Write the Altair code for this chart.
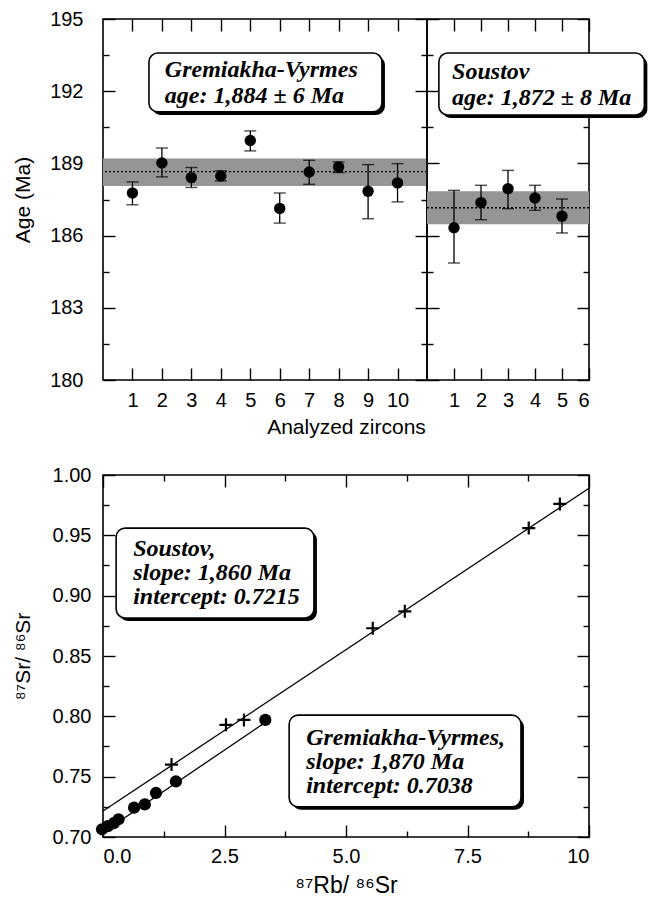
import altair as alt
import pandas as pd

# ---------------- data ----------------
# Top panel, Gremiakha-Vyrmes zircons
g_idx = [1, 2, 3, 4, 5, 6, 7, 8, 9, 10]
g_age = [187.77, 189.02, 188.41, 188.48, 189.95, 187.13, 188.64, 188.85, 187.84, 188.19]
g_lo = [187.28, 188.44, 188.00, 188.27, 189.52, 186.52, 188.13, 188.62, 186.70, 187.40]
g_hi = [188.23, 189.64, 188.83, 188.69, 190.35, 187.77, 189.13, 189.06, 188.95, 188.99]
g_band = [188.06, 189.20]
g_mean = [188.66]

# Top panel, Soustov zircons
s_idx = [1, 2, 3, 4, 5]
s_age = [186.33, 187.37, 187.95, 187.56, 186.81]
s_lo = [184.86, 186.66, 187.12, 187.05, 186.11]
s_hi = [187.88, 188.09, 188.71, 188.09, 187.52]
s_band = [186.47, 187.84]
s_mean = [187.16]

# Bottom panel, Rb-Sr isochrons
rb_g = [-0.02, 0.10, 0.22, 0.32, 0.64, 0.86, 1.09, 1.50, 3.34]
sr_g = [0.7064, 0.7090, 0.7114, 0.7147, 0.7243, 0.7270, 0.7365, 0.7460, 0.7970]
rb_s = [1.41, 2.53, 2.90, 5.55, 6.21, 8.76, 9.40]
sr_s = [0.760, 0.793, 0.797, 0.873, 0.887, 0.956, 0.976]
line_g_x = [0.0, 3.34]
line_g_y = [0.7038, 0.7950]
line_s_x = [0.0, 10.0]
line_s_y = [0.7215, 0.9890]

g_label = ["Gremiakha-Vyrmes", "age: 1,884 \u00b1 6 Ma"]
s_label = ["Soustov", "age: 1,872 \u00b1 8 Ma"]
s_iso_label = ["Soustov,", "slope: 1,860 Ma", "intercept: 0.7215"]
g_iso_label = ["Gremiakha-Vyrmes,", "slope: 1,870 Ma", "intercept: 0.7038"]

# ---------------- layout constants ----------------
W1, W2, H = 324, 162, 361
WB, HB = 486, 362
SANS = "Liberation Sans"
SERIF = "Liberation Serif"
TITLE_X = -70
BOX_FS = 24

age_major = [180, 183, 186, 189, 192, 195]
age_all = [180 + 1.5 * i for i in range(11)]
age_test = "abs(datum.value / 3 - round(datum.value / 3)) < 0.01"


def inward(orient, offset, values, size):
    return alt.Axis(orient=orient, offset=offset, values=values, labels=False,
                    ticks=True, domain=False, grid=False, title=None,
                    tickSize=size, tickColor="black", tickWidth=1.4)


def boxed_text(xs, ys, x1, x2, y1, y2, tx, ty, lines, lh, fs):
    shadow = alt.Chart().mark_rect(color="black", cornerRadius=9,
                                   xOffset=3, x2Offset=3, yOffset=3, y2Offset=3).encode(
        x=alt.X(datum=x1, scale=xs, axis=None), x2=alt.X2(datum=x2),
        y=alt.Y(datum=y1, scale=ys, axis=None), y2=alt.Y2(datum=y2))
    box = alt.Chart().mark_rect(fill="white", stroke="black", strokeWidth=1.6,
                                cornerRadius=9).encode(
        x=alt.X(datum=x1, scale=xs, axis=None), x2=alt.X2(datum=x2),
        y=alt.Y(datum=y1, scale=ys, axis=None), y2=alt.Y2(datum=y2))
    txt = alt.Chart().mark_text(text=lines, align="left", baseline="top", font=SERIF,
                                fontStyle="italic", fontWeight="bold", fontSize=fs,
                                lineHeight=lh, color="black").encode(
        x=alt.X(datum=tx, scale=xs, axis=None), y=alt.Y(datum=ty, scale=ys, axis=None))
    return [shadow, box, txt]


def top_panel(idx, age, lo, hi, band, mean, xmax, width, xticks, left_labels, box):
    df = pd.DataFrame({"n": idx, "age": age, "lo": lo, "hi": hi})
    bdf = pd.DataFrame({"b0": [band[0]], "b1": [band[1]], "m": mean})
    xs = alt.Scale(domain=[0, xmax], nice=False, zero=False)
    ys = alt.Scale(domain=[180, 195], nice=False, zero=False)
    ysize = {"condition": {"test": age_test, "value": 12}, "value": 6}

    band_l = alt.Chart(bdf).mark_rect(color="#959595").encode(
        y=alt.Y("b0:Q", scale=ys, axis=None), y2="b1:Q")
    mean_l = alt.Chart(bdf).mark_rule(color="black", strokeDash=[2, 2], strokeWidth=1.4).encode(
        y=alt.Y("m:Q", scale=ys, axis=None))
    err_l = alt.Chart(df).mark_rule(color="black", strokeWidth=1.3).encode(
        x=alt.X("n:Q", scale=xs, axis=inward("top", -H, xticks, 12)),
        y=alt.Y("lo:Q", scale=ys, axis=inward("right", -width, age_all, ysize)),
        y2="hi:Q")
    cap_l = alt.Chart(df).transform_fold(["lo", "hi"], as_=["k", "v"]).mark_tick(
        orient="horizontal", size=12, thickness=1.4, color="black").encode(
        x=alt.X("n:Q", scale=xs, axis=inward("bottom", -H, xticks, 12)),
        y=alt.Y("v:Q", scale=ys, axis=inward("left", -width, age_all, ysize)))
    if left_labels:
        yax = alt.Axis(orient="left", values=age_major, ticks=False, domain=False, grid=False,
                       labelPadding=20, title="Age (Ma)", titleX=TITLE_X)
        xax = alt.Axis(orient="bottom", values=xticks, ticks=False, domain=False, grid=False,
                       labelPadding=10, title="Analyzed zircons", titleX=243, titlePadding=6)
    else:
        yax = None
        xax = alt.Axis(orient="bottom", values=xticks, ticks=False, domain=False, grid=False,
                       labelPadding=10, title=None)
    pt_l = alt.Chart(df).mark_circle(size=130, color="black", opacity=1).encode(
        x=alt.X("n:Q", scale=xs, axis=xax),
        y=alt.Y("age:Q", scale=ys, axis=yax))
    layers = [band_l, mean_l, err_l, cap_l, pt_l] + boxed_text(xs, ys, *box)
    return alt.layer(*layers).resolve_axis(x="independent", y="independent").properties(
        width=width, height=H)


left = top_panel(g_idx, g_age, g_lo, g_hi, g_band, g_mean, 11, W1, list(range(1, 11)), True,
                 (1.56, 9.47, 193.59, 191.14, 2.10, 193.40, g_label, 26, BOX_FS))
right = top_panel(s_idx, s_age, s_lo, s_hi, s_band, s_mean, 6, W2, list(range(1, 7)), False,
                  (0.44, 8.05, 193.59, 191.01, 0.93, 193.30, s_label, 26, BOX_FS))
top = alt.hconcat(left, right, spacing=0, bounds="flush")

# ---------------- bottom panel ----------------
bxs = alt.Scale(domain=[0, 10], nice=False, zero=False)
bys = alt.Scale(domain=[0.70, 1.00], nice=False, zero=False)
x_major = [0, 2.5, 5, 7.5, 10]
x_all = [1.25 * i for i in range(9)]
y_major = [0.70, 0.75, 0.80, 0.85, 0.90, 0.95, 1.00]
y_all = [round(0.70 + 0.025 * i, 3) for i in range(13)]
xsize = {"condition": {"test": "abs(datum.value / 2.5 - round(datum.value / 2.5)) < 0.01", "value": 12}, "value": 6}
ysize_b = {"condition": {"test": "abs(datum.value * 20 - round(datum.value * 20)) < 0.01", "value": 12}, "value": 6}

lines_df = pd.DataFrame({
    "x": line_s_x + line_g_x,
    "y": line_s_y + line_g_y,
    "s": ["Soustov"] * len(line_s_x) + ["Gremiakha"] * len(line_g_x),
})
g_df = pd.DataFrame({"x": rb_g, "y": sr_g})
s_df = pd.DataFrame({"x": rb_s, "y": sr_s})

iso_lines = alt.Chart(lines_df).mark_line(color="black", strokeWidth=1.3).encode(
    x=alt.X("x:Q", scale=bxs, axis=inward("top", -HB, x_all, xsize)),
    y=alt.Y("y:Q", scale=bys, axis=inward("right", -WB, y_all, ysize_b)),
    detail="s:N")
g_pts = alt.Chart(g_df).mark_circle(size=150, color="black", opacity=1).encode(
    x=alt.X("x:Q", scale=bxs, axis=inward("bottom", -HB, x_all, xsize)),
    y=alt.Y("y:Q", scale=bys, axis=inward("left", -WB, y_all, ysize_b)))
s_pts = alt.Chart(s_df).mark_point(shape="M-1,0L1,0M0,-1L0,1", size=170, filled=False,
                                   stroke="black", strokeWidth=2.2, opacity=1).encode(
    x=alt.X("x:Q", scale=bxs, axis=alt.Axis(
        orient="bottom", values=x_major, ticks=False, domain=False, grid=False, labelPadding=9,
        labelExpr="datum.value == 10 ? '10' : format(datum.value, '.1f')",
        title="\u2078\u2077Rb/ \u2078\u2076Sr", titlePadding=8, titleFontSize=23)),
    y=alt.Y("y:Q", scale=bys, axis=alt.Axis(
        orient="left", values=y_major, ticks=False, domain=False, grid=False, labelPadding=12,
        format=".2f", title="\u2078\u2077Sr/ \u2078\u2076Sr", titleX=TITLE_X, titleFontSize=21)))

bottom_layers = [iso_lines, g_pts, s_pts]
bottom_layers += boxed_text(bxs, bys, 0.27, 4.34, 0.956, 0.8815, 0.62, 0.949, s_iso_label, 24, BOX_FS)
bottom_layers += boxed_text(bxs, bys, 3.83, 8.60, 0.801, 0.725, 4.18, 0.792, g_iso_label, 24, BOX_FS)
bottom = alt.layer(*bottom_layers).resolve_axis(x="independent", y="independent").properties(
    width=WB, height=HB)

chart = alt.vconcat(top, bottom, spacing=26).properties(
    padding={"left": 11, "top": 8, "right": 0, "bottom": 0},
    background="white"
).configure_view(
    stroke="black", strokeWidth=1.6
).configure_axis(
    labelFont=SANS, labelFontSize=20, labelColor="black",
    titleFont=SANS, titleFontSize=21, titleFontWeight="normal", titleColor="black",
    domain=False, grid=False
)

chart.save("out.html", embed_options={"renderer": "svg", "actions": False})
